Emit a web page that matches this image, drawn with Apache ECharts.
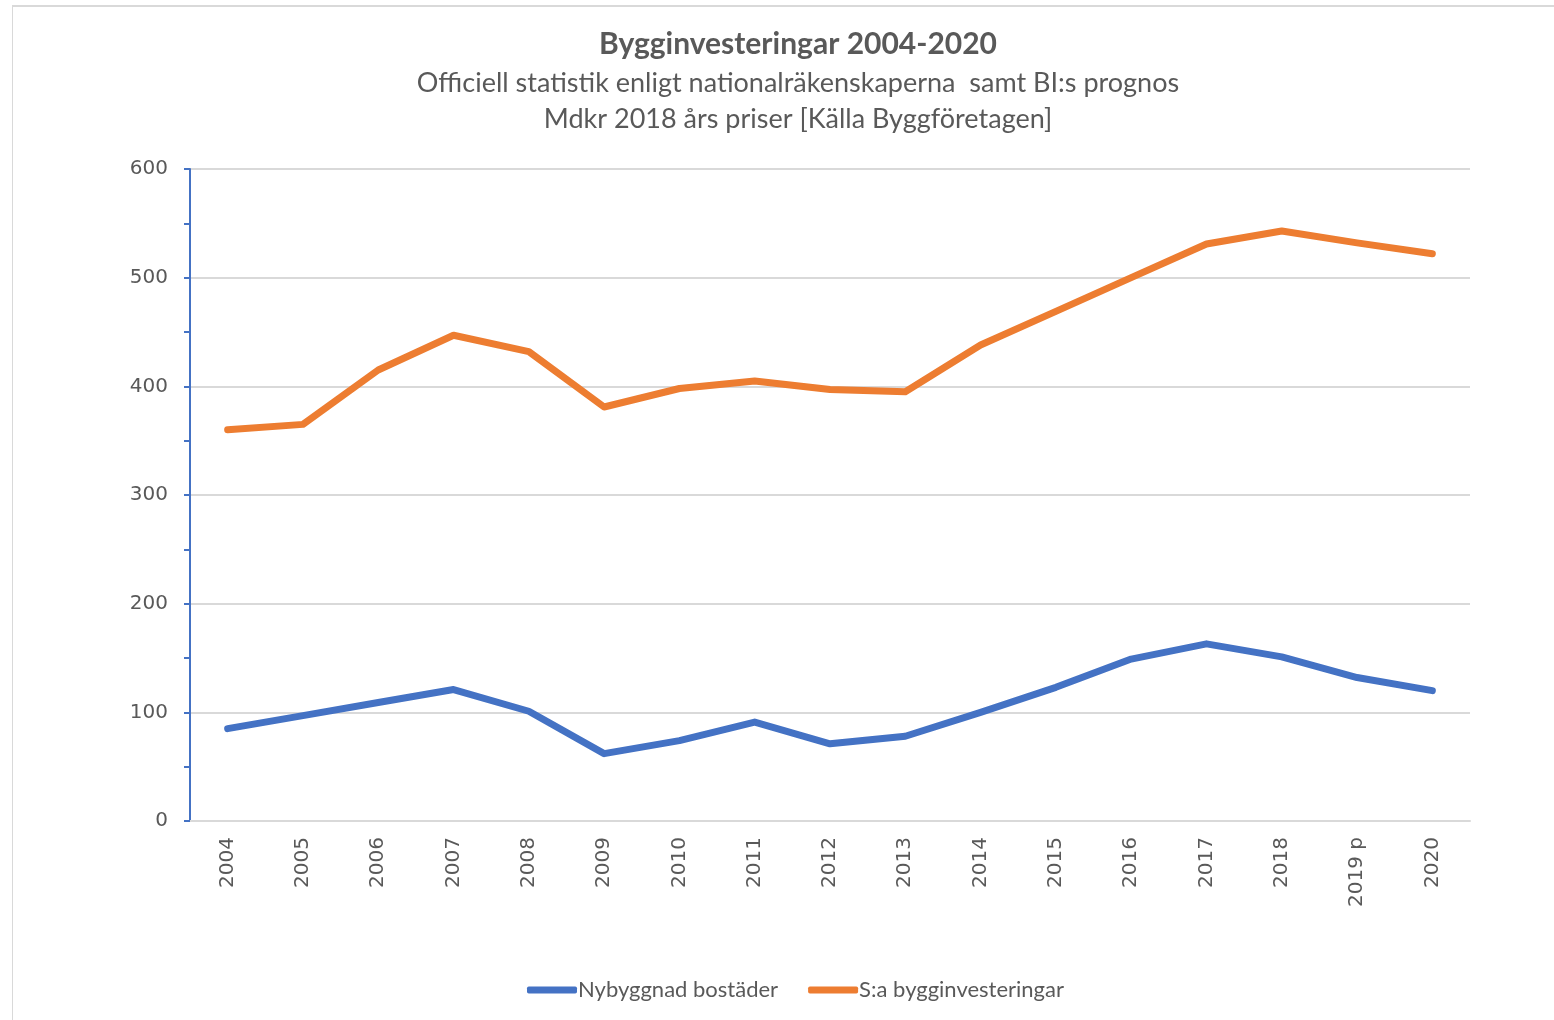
<!DOCTYPE html>
<html>
<head>
<meta charset="utf-8">
<script src="https://cdn.jsdelivr.net/npm/echarts@6/dist/echarts.min.js"></script>
<style>
  html, body { margin: 0; padding: 0; background: #fff; }
  #frame {
    position: absolute; left: 12px; top: 5px; width: 1560px; height: 1030px;
    border-left: 1px solid #d9d9d9; border-top: 2px solid #d9d9d9;
  }
  #chart { position: absolute; left: 0; top: 0; width: 1554px; height: 1020px; }
</style>
</head>
<body>
<div id="frame"></div>
<div id="chart"></div>
<script>
// kategorier (år)
var years = ['2004', '2005', '2006', '2007', '2008', '2009', '2010', '2011', '2012',
  '2013', '2014', '2015', '2016', '2017', '2018', '2019 p', '2020']
// Mdkr, 2018 års priser
var nybyggnad = [85, 97, 109, 121, 101, 62, 74, 91, 71, 78, 100, 123, 149, 163, 151, 132, 120]
var totalt = [360, 365, 415, 447, 432, 381, 398, 405, 397, 395, 438, 469, 500, 531, 543, 532, 522]
var yTicks = [0, 100, 200, 300, 400, 500, 600]

var titleFont = 'Lato, "Open Sans", sans-serif'
var axisFont = '"DejaVu Sans", sans-serif'
var labelColor = '#595959'

var chart = echarts.init(document.getElementById('chart'))
chart.setOption({
  backgroundColor: 'transparent',
  animation: false,
  title: [
    {
      text: 'Bygginvesteringar 2004-2020',
      left: 793, top: 24, textAlign: 'center',
      textStyle: { fontFamily: titleFont, fontSize: 30, fontWeight: 'bold', color: labelColor }
    },
    {
      text: 'Officiell statistik enligt nationalräkenskaperna  samt BI:s prognos',
      left: 793, top: 65, textAlign: 'center',
      textStyle: { fontFamily: titleFont, fontSize: 27, fontWeight: 'normal', color: labelColor }
    },
    {
      text: 'Mdkr 2018 års priser [Källa Byggföretagen]',
      left: 793, top: 101, textAlign: 'center',
      textStyle: { fontFamily: titleFont, fontSize: 27, fontWeight: 'normal', color: labelColor }
    }
  ],
  legend: {
    bottom: 14,
    left: 522,
    icon: 'roundRect',
    itemWidth: 50,
    itemHeight: 7,
    itemGap: 30,
    textStyle: { fontFamily: titleFont, fontSize: 22, color: labelColor, padding: [0, 0, 0, -4] },
    data: ['Nybyggnad bostäder', 'S:a bygginvesteringar']
  },
  grid: { left: 190, right: 84, top: 169, bottom: 199 },
  xAxis: {
    type: 'category',
    data: years,
    boundaryGap: true,
    axisLine: { lineStyle: { color: '#d9d9d9', width: 2 } },
    axisTick: { show: false },
    axisLabel: {
      rotate: 90,
      margin: 16,
      color: labelColor,
      fontFamily: axisFont,
      fontSize: 20
    }
  },
  yAxis: {
    type: 'value',
    min: yTicks[0],
    max: yTicks[yTicks.length - 1],
    interval: 100,
    axisLine: { show: true, lineStyle: { color: '#4472C4', width: 2 } },
    axisTick: { show: true, length: 6, lineStyle: { color: '#4472C4', width: 2 } },
    minorTick: { show: true, splitNumber: 2, length: 6, lineStyle: { color: '#4472C4', width: 2 } },
    splitLine: { lineStyle: { color: '#d9d9d9', width: 2 } },
    axisLabel: {
      margin: 22,
      color: labelColor,
      fontFamily: axisFont,
      fontSize: 20
    }
  },
  series: [
    {
      name: 'Nybyggnad bostäder',
      type: 'line',
      data: nybyggnad,
      color: '#4472C4',
      symbol: 'none',
      lineStyle: { width: 7, cap: 'round', join: 'round' }
    },
    {
      name: 'S:a bygginvesteringar',
      type: 'line',
      data: totalt,
      color: '#ED7D31',
      symbol: 'none',
      lineStyle: { width: 7, cap: 'round', join: 'round' }
    }
  ]
})
</script>
</body>
</html>
